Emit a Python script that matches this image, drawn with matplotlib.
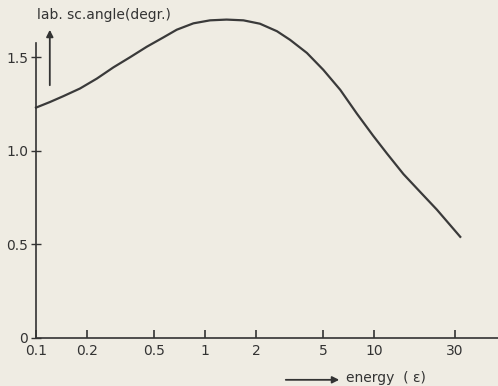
import matplotlib.pyplot as plt
from matplotlib.patches import FancyArrowPatch

# curve
energy = [0.1, 0.121, 0.145, 0.182, 0.229, 0.287, 0.36, 0.452, 0.567, 0.68, 0.853,
          1.07, 1.34, 1.685, 2.11, 2.66, 3.18, 4.0, 5.0, 6.3, 7.9, 9.86, 11.9,
          14.9, 18.7, 23.5, 32.3]
angle = [1.23, 1.26, 1.291, 1.332, 1.385, 1.445, 1.499, 1.555, 1.605, 1.646, 1.680,
         1.696, 1.70, 1.696, 1.678, 1.638, 1.592, 1.522, 1.432, 1.325, 1.198, 1.08, 0.985,
         0.875, 0.78, 0.685, 0.54]

xticks = [0.1, 0.2, 0.5, 1, 2, 5, 10, 30]
xlabels = ["0.1", "0.2", "0.5", "1", "2", "5", "10", "30"]
yticks = [0, 0.5, 1.0, 1.5]
ylabels = ["0", "0.5", "1.0", "1.5"]

bg = "#efece3"
ink = "#333333"

fig = plt.figure(figsize=(4.98, 3.86), dpi=100, facecolor=bg)
ax = fig.add_axes([0.0723, 0.1244, 0.9277, 0.7642])
ax.set_facecolor(bg)

ax.plot(energy, angle, color="#3a3a3a", lw=1.6, clip_on=False, solid_joinstyle="round")

ax.set_xscale("log")
ax.set_xlim(0.1, 54)
ax.set_ylim(0, 1.575)
ax.set_xticks(xticks)
ax.set_xticklabels(xlabels)
ax.minorticks_off()
ax.set_yticks(yticks)
ax.set_yticklabels(ylabels)

for s in ["top", "right"]:
    ax.spines[s].set_visible(False)
for s in ["left", "bottom"]:
    ax.spines[s].set_color(ink)
    ax.spines[s].set_linewidth(1.2)

ax.tick_params(axis="x", direction="in", length=6, width=1.2, colors=ink, labelsize=10, pad=4)
ax.tick_params(axis="y", direction="inout", length=7, width=1.0, colors=ink, labelsize=10, pad=2)

fig.text(0.075, 0.962, "lab. sc.angle(degr.)", color=ink, fontsize=10, va="center", ha="left")
fig.text(0.695, 0.021, "energy  ( ε)", color=ink, fontsize=10, va="center", ha="left")

# arrows beside the axis labels
fig.patches.append(FancyArrowPatch(
    (0.1, 1 - 88 / 386), (0.1, 1 - 27 / 386), transform=fig.transFigure,
    arrowstyle="-|>", mutation_scale=10, color=ink, lw=1.3))
fig.patches.append(FancyArrowPatch(
    (283 / 498, 0.016), (342 / 498, 0.016), transform=fig.transFigure,
    arrowstyle="-|>", mutation_scale=10, color=ink, lw=1.3))

plt.savefig("out.png", dpi=100, facecolor=bg)
